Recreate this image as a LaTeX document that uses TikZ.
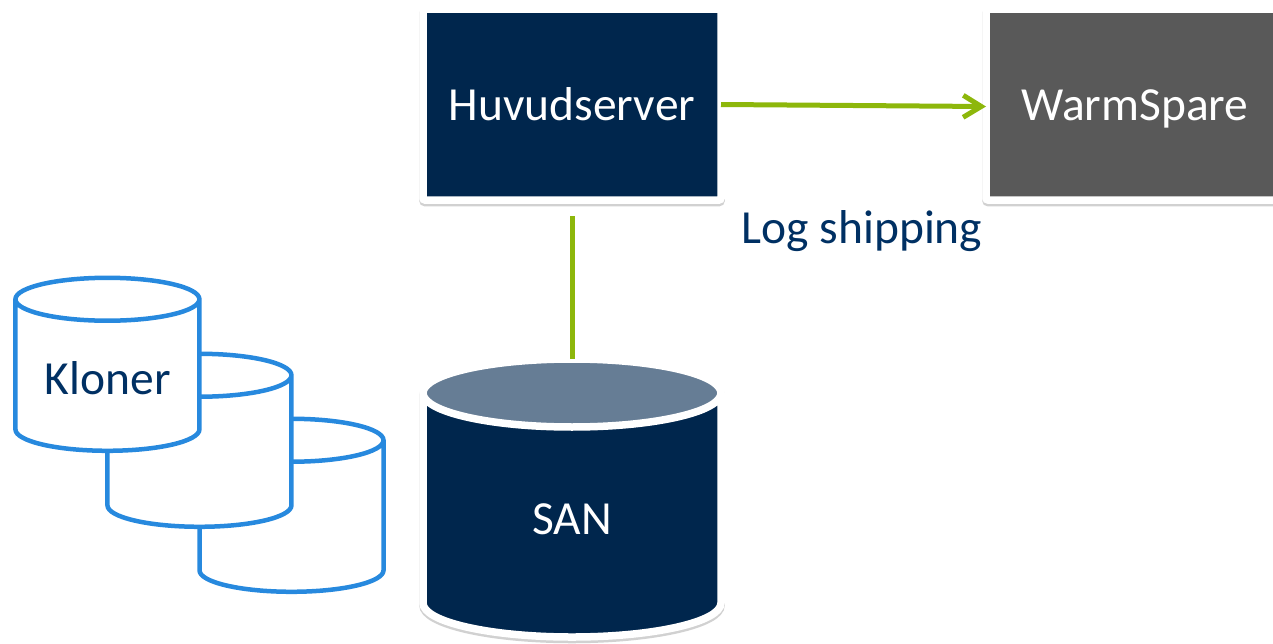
\documentclass[tikz,border=0pt]{standalone}
\usepackage{fontspec}
\setmainfont{Carlito}
\usepackage{tikz}
\usetikzlibrary{arrows.meta,positioning,shadows,shapes.geometric}
\definecolor{navy}{HTML}{00264D}
\definecolor{navytop}{HTML}{667D95}
\definecolor{slate}{HTML}{595959}
\definecolor{leaf}{HTML}{8DB70B}
\definecolor{klonblue}{HTML}{2789DE}
\definecolor{labelblue}{HTML}{003063}
\tikzset{
    %Define style for boxes
    serverrect/.style={
           rectangle,
           rounded corners=2pt,
           draw=white, line width=7.5pt,
           fill=navy,
           text=white,
           outer sep=0pt,
           minimum width=298pt,
           minimum height=191pt,
           text height=32pt,
           text depth=0pt,
           font=\fontsize{47.5}{50}\selectfont,
           text centered,
           drop shadow={shadow xshift=0pt,shadow yshift=-2.5pt,opacity=.18,draw=black,fill=black}
           },
    sparerect/.style={
           serverrect,
           fill=slate
           },
    %Define style for cylinders
    sancyl/.style={
           cylinder,
           shape border rotate=90,
           aspect=.434,
           text width=150pt,
           draw=white, line width=7.5pt,
           cylinder uses custom fill,
           cylinder end fill=navytop,
           cylinder body fill=navy,
           text=white,
           outer sep=0pt,
           minimum width=298pt,
           minimum height=278pt,
           font=\fontsize{47.5}{50}\selectfont,
           text centered
           },
    sanshade/.style={
           cylinder,
           shape border rotate=90,
           aspect=.434,
           text width=150pt,
           draw=black!18, line width=7.5pt,
           fill=black!18,
           outer sep=0pt,
           minimum width=298pt,
           minimum height=278pt,
           },
    klon/.style={
           cylinder,
           shape border rotate=90,
           aspect=.326,
           text width=125pt,
           draw=klonblue, line width=4.5pt,
           fill=white,
           text=labelblue,
           outer sep=0pt,
           minimum width=184pt,
           minimum height=173pt,
           font=\fontsize{47.5}{50}\selectfont,
           text centered
           },
    % Define arrow style
    pil/.style={
           draw=leaf,
           line width=5pt,
           -{Straight Barb[length=18pt,width=22pt]}},
    plainpil/.style={
           draw=leaf,
           line width=5pt}
}
\begin{document}
\begin{tikzpicture}[x=1pt,y=-1pt,node distance=1cm]
\useasboundingbox (0,0) rectangle (1273,643);
 %nodes
\node[serverrect](huvud) at (572,104.5){Huvudserver};
\node[sparerect, right=265pt of huvud](warm){WarmSpare};
\node[sanshade, below=161.5pt of huvud](shade){};
\node[sancyl, below=159pt of huvud](san){\raisebox{3pt}{SAN}};
\node[font=\fontsize{47.5}{50}\selectfont, text=labelblue](log) at (862,231){Log shipping};
\node[klon](klon3) at (291.5,520){};
\node[klon, left=-92pt of klon3, yshift=65pt](klon2){};
\node[klon, left=-92pt of klon2, yshift=76pt](kloner){\raisebox{3pt}{Kloner}};
 %connectors
\draw[pil] (huvud.east) -- ([yshift=-2pt]warm.west);
\draw[plainpil, shorten <=16pt] (huvud.south) -- (san.north);
\end{tikzpicture}
\end{document}
